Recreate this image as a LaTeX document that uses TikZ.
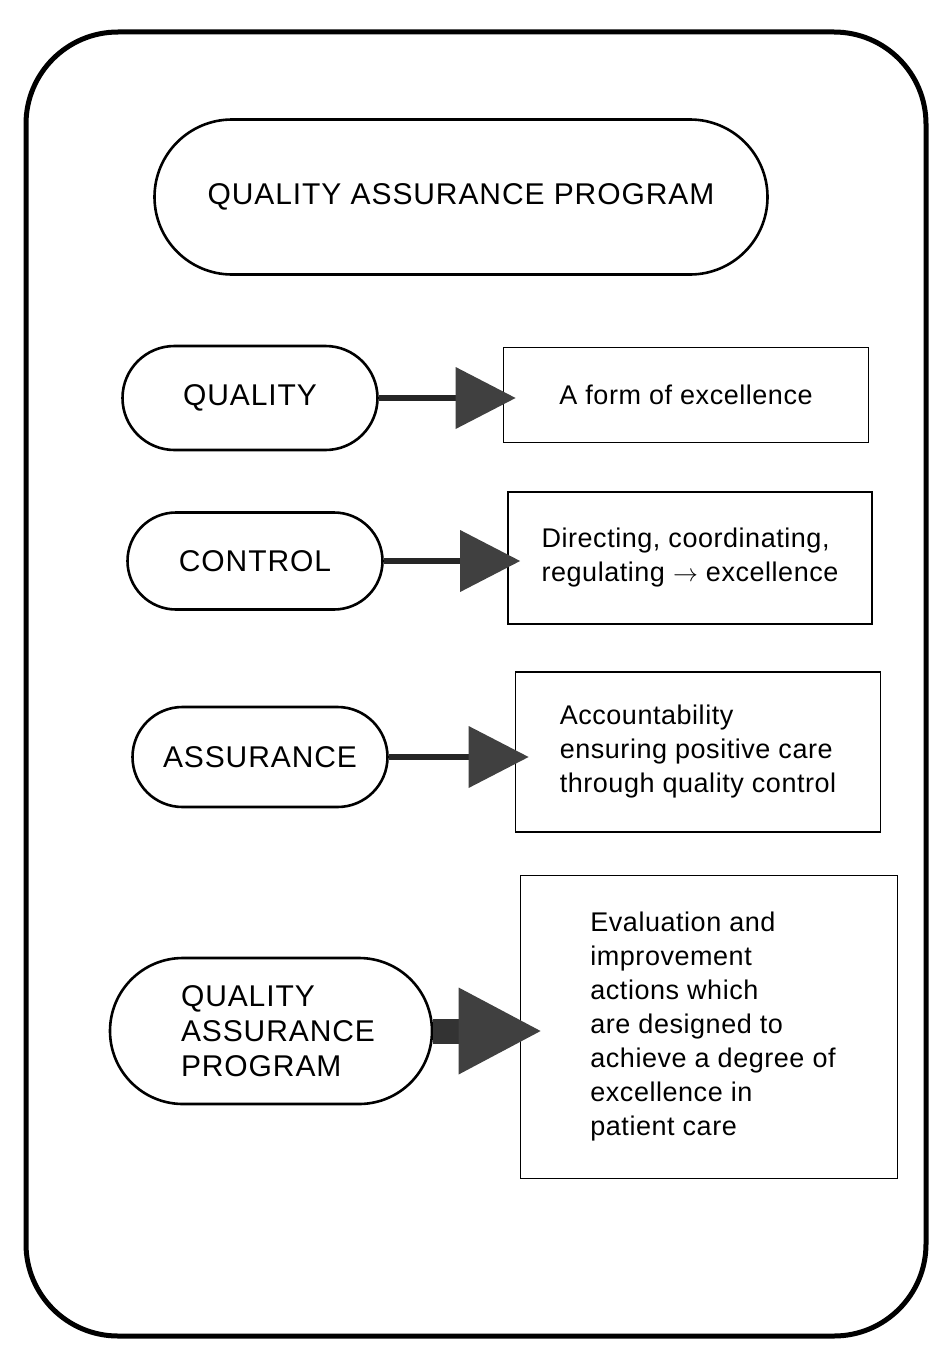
\documentclass[tikz,border=0pt]{standalone}
\usepackage{fontspec}
\setmainfont{Liberation Sans}[LetterSpace=2]
\usetikzlibrary{arrows.meta,shapes.misc}
\begin{document}
\begin{tikzpicture}[x=1pt,y=-1pt,
  every node/.style={font=\fontsize{27}{34}\selectfont},
  pill/.style={rounded rectangle, draw, line width=2.6pt, inner sep=0pt,
    font=\fontsize{30}{35}\selectfont\addfontfeature{LetterSpace=3}},
  defbox/.style={rectangle, draw, line width=1.8pt, inner sep=0pt, align=left},
  link/.style={line width=6pt, draw=black!85, shorten >=-1pt,
    -{Triangle[length=60pt,width=62pt,fill=black!75,line width=0pt]}}
]
\useasboundingbox (0,0) rectangle (947,1346);
\fill[white] (0,0) rectangle (947,1346);

% outer frame
\draw[line width=5pt, rounded corners=92pt] (26,32) rectangle (926,1336);

% heading
\node[pill, minimum width=613pt, minimum height=155pt] (title) at (461,197)
  {QUALITY ASSURANCE PROGRAM};

% terms
\node[pill, minimum width=255pt, minimum height=104pt] (q) at (250,398) {QUALITY};
\node[pill, minimum width=255pt, minimum height=97pt]  (c) at (255,561) {CONTROL};
\node[pill, minimum width=255pt, minimum height=100pt] (a) at (260,757) {ASSURANCE};
\node[pill, minimum width=322pt, minimum height=146pt, align=left] (p) at (271,1031)
  {\hspace*{14pt}QUALITY\\\hspace*{14pt}ASSURANCE\\\hspace*{14pt}PROGRAM};

% definitions
\node[defbox, minimum width=365pt, minimum height=95pt] (dq) at (686,395)
  {A form of excellence};
\node[defbox, minimum width=364pt, minimum height=132pt] (dc) at (690,558)
  {Directing, coordinating,\\regulating \(\rightarrow\) excellence};
\node[defbox, minimum width=365pt, minimum height=160pt] (da) at (698,752)
  {Accountability\\ensuring positive care\\through quality control};
\node[defbox, minimum width=377pt, minimum height=303pt] (dp) at (709,1027)
  {\hspace*{8pt}Evaluation and\\\hspace*{8pt}improvement\\\hspace*{8pt}actions which\\\hspace*{8pt}are designed to\\\hspace*{8pt}achieve a degree of\\\hspace*{8pt}excellence in\\\hspace*{8pt}patient care};

% connectors
\draw[link] (q.east) -- ([xshift=12pt]q.east -| dq.west);
\draw[link] (c.east) -- ([xshift=12pt]c.east -| dc.west);
\draw[link] (a.east) -- ([xshift=13pt]a.east -| da.west);
\draw[line width=25pt, draw=black!80, shorten >=-1pt,
  -{Triangle[length=82pt,width=87pt,fill=black!75,line width=0pt]}]
  (p.east) -- ([xshift=20pt]p.east -| dp.west);
\end{tikzpicture}
\end{document}
